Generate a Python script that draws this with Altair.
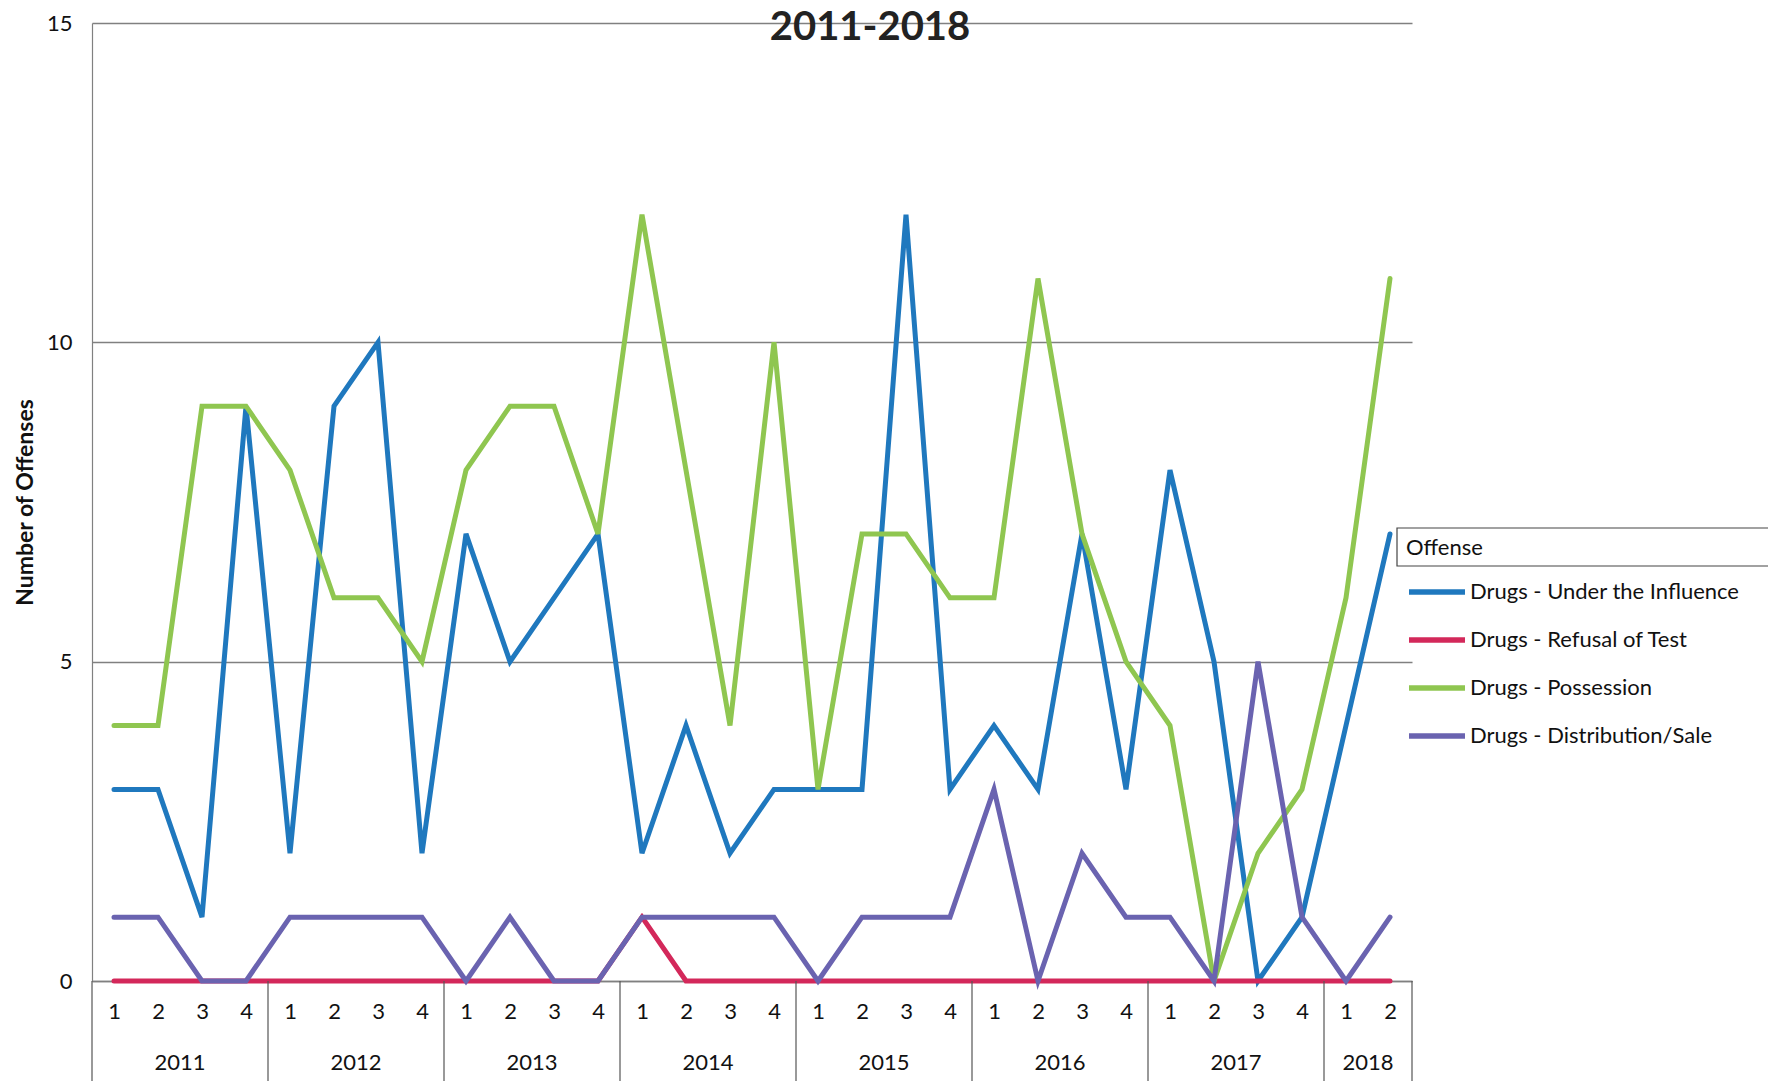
import json
import altair as alt
import pandas as pd

# ---------------- data ----------------
YEARS = ["2011"] * 4 + ["2012"] * 4 + ["2013"] * 4 + ["2014"] * 4 + \
        ["2015"] * 4 + ["2016"] * 4 + ["2017"] * 4 + ["2018"] * 2
QUARTERS = ["1", "2", "3", "4"] * 7 + ["1", "2"]

SERIES = ["Drugs - Under the Influence", "Drugs - Refusal of Test",
          "Drugs - Possession", "Drugs - Distribution/Sale"]
COLORS = ["#1f78be", "#d3285a", "#8fc650", "#6a63b0"]

UNDER_INFLUENCE = [3, 3, 1, 9, 2, 9, 10, 2, 7, 5, 6, 7, 2, 4, 2, 3,
                   3, 3, 12, 3, 4, 3, 7, 3, 8, 5, 0, 1, 4, 7]
REFUSAL_OF_TEST = [0, 0, 0, 0, 0, 0, 0, 0, 0, 0, 0, 0, 1, 0, 0, 0,
                   0, 0, 0, 0, 0, 0, 0, 0, 0, 0, 0, 0, 0, 0]
POSSESSION = [4, 4, 9, 9, 8, 6, 6, 5, 8, 9, 9, 7, 12, 8, 4, 10,
              3, 7, 7, 6, 6, 11, 7, 5, 4, 0, 2, 3, 6, 11]
DISTRIBUTION = [1, 1, 0, 0, 1, 1, 1, 1, 0, 1, 0, 0, 1, 1, 1, 1,
                0, 1, 1, 1, 3, 0, 2, 1, 1, 0, 5, 1, 0, 1]

Y_TICKS = [0, 5, 10, 15]
TITLE = "2011-2018"
FONT = "Lato"

# ---------------- tables ----------------
values = [UNDER_INFLUENCE, REFUSAL_OF_TEST, POSSESSION, DISTRIBUTION]
rows = []
for name, vals in zip(SERIES, values):
    for i, v in enumerate(vals):
        rows.append({"idx": i, "year": YEARS[i], "quarter": QUARTERS[i],
                     "offense": name, "count": v})
df = pd.DataFrame(rows)

seen = []
for y in YEARS:
    if y not in seen:
        seen.append(y)
year_rows, bounds = [], []
for y in seen:
    ids = [i for i, yy in enumerate(YEARS) if yy == y]
    year_rows.append({"year": y, "center": sum(ids) / len(ids)})
    bounds.append({"b": ids[0] - 0.5})
bounds.append({"b": len(YEARS) - 0.5})
years_df = pd.DataFrame(year_rows)
bounds_df = pd.DataFrame(bounds)

W, H = 1320, 958
N = len(YEARS)
xscale = alt.Scale(domain=[-0.5, N - 0.5], nice=False, zero=False)
yscale = alt.Scale(domain=[0, 15], nice=False)
color = alt.Color("offense:N",
                  scale=alt.Scale(domain=SERIES, range=COLORS),
                  legend=alt.Legend(orient="none", legendX=1314, legendY=515,
                                    title="Offense", titleFontSize=22,
                                    titleFontWeight="normal", titleFont=FONT,
                                    titleColor="#111", titlePadding=1,
                                    labelFontSize=22, labelFont=FONT,
                                    labelColor="#111", labelLimit=500,
                                    symbolType="stroke",
                                    symbolSize=3136, symbolStrokeWidth=5.5,
                                    rowPadding=6, labelOffset=2))

x_axis = alt.Axis(values=list(range(N)),
                  labelExpr=f"{json.dumps(QUARTERS)}[datum.value]",
                  grid=False, ticks=False, domain=True, domainColor="#808080",
                  domainWidth=1.5, labelFontSize=22, labelFont=FONT,
                  labelColor="#111", labelPadding=20, labelAngle=0,
                  labelFlush=False, title=None)
y_axis = alt.Axis(values=Y_TICKS, grid=True, gridColor="#808080",
                  gridWidth=1.5, ticks=False, domain=True,
                  domainColor="#808080", domainWidth=1.2,
                  labelFontSize=22, labelFont=FONT, labelColor="#111",
                  labelPadding=20, title="Number of Offenses",
                  titleFontSize=23, titleFont=FONT, titleFontWeight="bold",
                  titleColor="#111", titlePadding=9)

base = alt.Chart(df)
layers = []
for name in SERIES:
    layers.append(
        base.transform_filter(alt.datum.offense == name)
        .mark_line(strokeWidth=5, strokeCap="round")
        .encode(x=alt.X("idx:Q", scale=xscale, axis=x_axis),
                y=alt.Y("count:Q", scale=yscale, axis=y_axis),
                color=color)
    )

seps = alt.Chart(bounds_df).mark_rule(color="#555", strokeWidth=1.2).encode(
    x=alt.X("b:Q", scale=xscale, axis=x_axis), y=alt.value(H),
    y2=alt.value(H + 105))

year_text = alt.Chart(years_df).mark_text(
    fontSize=22, font=FONT, color="#111", baseline="middle").encode(
    x=alt.X("center:Q", scale=xscale, axis=x_axis), y=alt.value(H + 82),
    text="year:N")

title_text = alt.Chart(pd.DataFrame({"t": [TITLE]})).mark_text(
    fontSize=40, font=FONT, fontWeight="bold", color="#222",
    baseline="middle").encode(x=alt.value(778), y=alt.value(5), text="t:N")

legend_box = alt.Chart(pd.DataFrame({"t": [TITLE]})).mark_rect(
    fill=None, stroke="#444", strokeWidth=1.2).encode(
    x=alt.value(1305), x2=alt.value(1720), y=alt.value(505), y2=alt.value(543))

chart = alt.layer(*layers, seps, year_text, title_text, legend_box).properties(
    width=W, height=H,
    autosize=alt.AutoSizeParams(type="none"),
    padding={"left": 84, "top": 15, "right": 356, "bottom": 100},
).configure_view(stroke=None)

chart.save("out.html", embed_options={"renderer": "svg", "actions": False})
